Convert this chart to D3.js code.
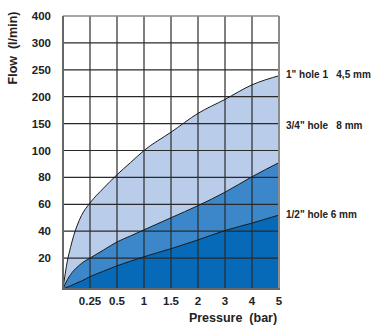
<!DOCTYPE html>
<html><head><meta charset="utf-8">
<script src="https://cdn.jsdelivr.net/npm/d3@7"></script>
<style>body{margin:0;background:#fff}svg{display:block}text{font-family:"Liberation Sans",Arial,sans-serif;font-weight:bold;fill:#222}</style>
</head><body><svg id="c" width="374" height="327"></svg>
<script>
const xTicks = [0, 0.25, 0.5, 1, 1.5, 2, 3, 4, 5];
const xTickLabels = ["", "0.25", "0.5", "1", "1.5", "2", "3", "4", "5"];
const yTicks = [0, 20, 40, 60, 80, 100, 150, 200, 250, 300, 400];
const yTickLabels = ["", "20", "40", "60", "80", "100", "150", "200", "250", "300", "400"];
const pressure = [0, 0.04, 0.07, 0.1, 0.13, 0.17, 0.25, 0.375, 0.5, 0.75, 1, 1.5, 2, 3, 4, 5];
const hole1 =    [0, 18, 28, 37, 44, 51.5, 61, 72, 82, 91, 100, 134, 169, 195, 222, 239];
const hole34 =   [0, 6, 9.3, 12, 14, 16.5, 20, 26, 32, 36.5, 41, 50, 59, 69, 80.5, 91];
const hole12 =   [0, 1.2, 2.1, 3, 4, 5.1, 8, 11.5, 15, 18, 21, 27, 33.5, 40.5, 46, 52];
const seriesLabels = ["1\" hole 1   4,5 mm", "3/4\" hole   8 mm", "1/2\" hole 6 mm"];

(function () {
const svg = d3.select("#c");
const pL = 63, pR = 279, pT = 16, pB = 289, step = 26.9;
const x = d3.scaleLinear().domain(xTicks).range(xTicks.map((d, i) => pL + i * (pR - pL) / (xTicks.length - 1)));
const yRange = yTicks.map((d, i) => i === 0 ? pB : pT + (yTicks.length - 1 - i) * step);
const y = d3.scaleLinear().domain(yTicks).range(yRange);

const series = [
  {v: hole1, fill: "#b9cdeb"},
  {v: hole34, fill: "#3b87c9"},
  {v: hole12, fill: "#066ab8"}
];
const area = d3.area().x((d, i) => x(pressure[i])).y0(y(0)).y1(d => y(d)).curve(d3.curveMonotoneX);
const line = d3.line().x((d, i) => x(pressure[i])).y(d => y(d)).curve(d3.curveMonotoneX);
series.forEach(s => svg.append("path").attr("d", area(s.v)).attr("fill", s.fill));

const g = svg.append("g").attr("stroke", "#2a2a2a").attr("stroke-width", 1.2);
xTicks.slice(1, -1).forEach(t => g.append("line").attr("x1", x(t)).attr("x2", x(t)).attr("y1", pT).attr("y2", pB));
yTicks.slice(1, -1).forEach(t => g.append("line").attr("x1", pL).attr("x2", pR).attr("y1", y(t)).attr("y2", y(t)));

series.forEach(s => svg.append("path").attr("d", line(s.v)).attr("fill", "none").attr("stroke", "#1a1a1a").attr("stroke-width", 1));

svg.append("line").attr("x1", pL).attr("x2", pR).attr("y1", pT).attr("y2", pT).attr("stroke", "#8a8a8a").attr("stroke-width", 1.5);
svg.append("line").attr("x1", pR).attr("x2", pR).attr("y1", pT).attr("y2", pB).attr("stroke", "#8a8a8a").attr("stroke-width", 2);
svg.append("line").attr("x1", pL).attr("x2", pL).attr("y1", pT).attr("y2", pB + 1).attr("stroke", "#666").attr("stroke-width", 2);
svg.append("line").attr("x1", pL).attr("x2", pR + 1).attr("y1", pB).attr("y2", pB).attr("stroke", "#666").attr("stroke-width", 2);

yTicks.forEach((t, i) => {
  if (!yTickLabels[i]) return;
  svg.append("text").attr("x", 51).attr("y", y(t) + 4).attr("text-anchor", "end").attr("font-size", 11.5).text(yTickLabels[i]);
});
xTicks.forEach((t, i) => {
  if (!xTickLabels[i]) return;
  svg.append("text").attr("x", x(t)).attr("y", 305).attr("text-anchor", "middle").attr("font-size", 11.5).text(xTickLabels[i]);
});
svg.append("text").attr("x", 233).attr("y", 322).attr("text-anchor", "middle").attr("font-size", 12.5).attr("xml:space", "preserve").text("Pressure  (bar)");
svg.append("text").attr("transform", "translate(17,48) rotate(-90)").attr("text-anchor", "middle").attr("font-size", 12.5).attr("xml:space", "preserve").text("Flow  (l/min)");

const labelY = [78, 129, 218];
seriesLabels.forEach((l, i) => svg.append("text").attr("x", 286).attr("y", labelY[i]).attr("font-size", 10).attr("xml:space", "preserve").text(l));
})();
</script></body></html>
